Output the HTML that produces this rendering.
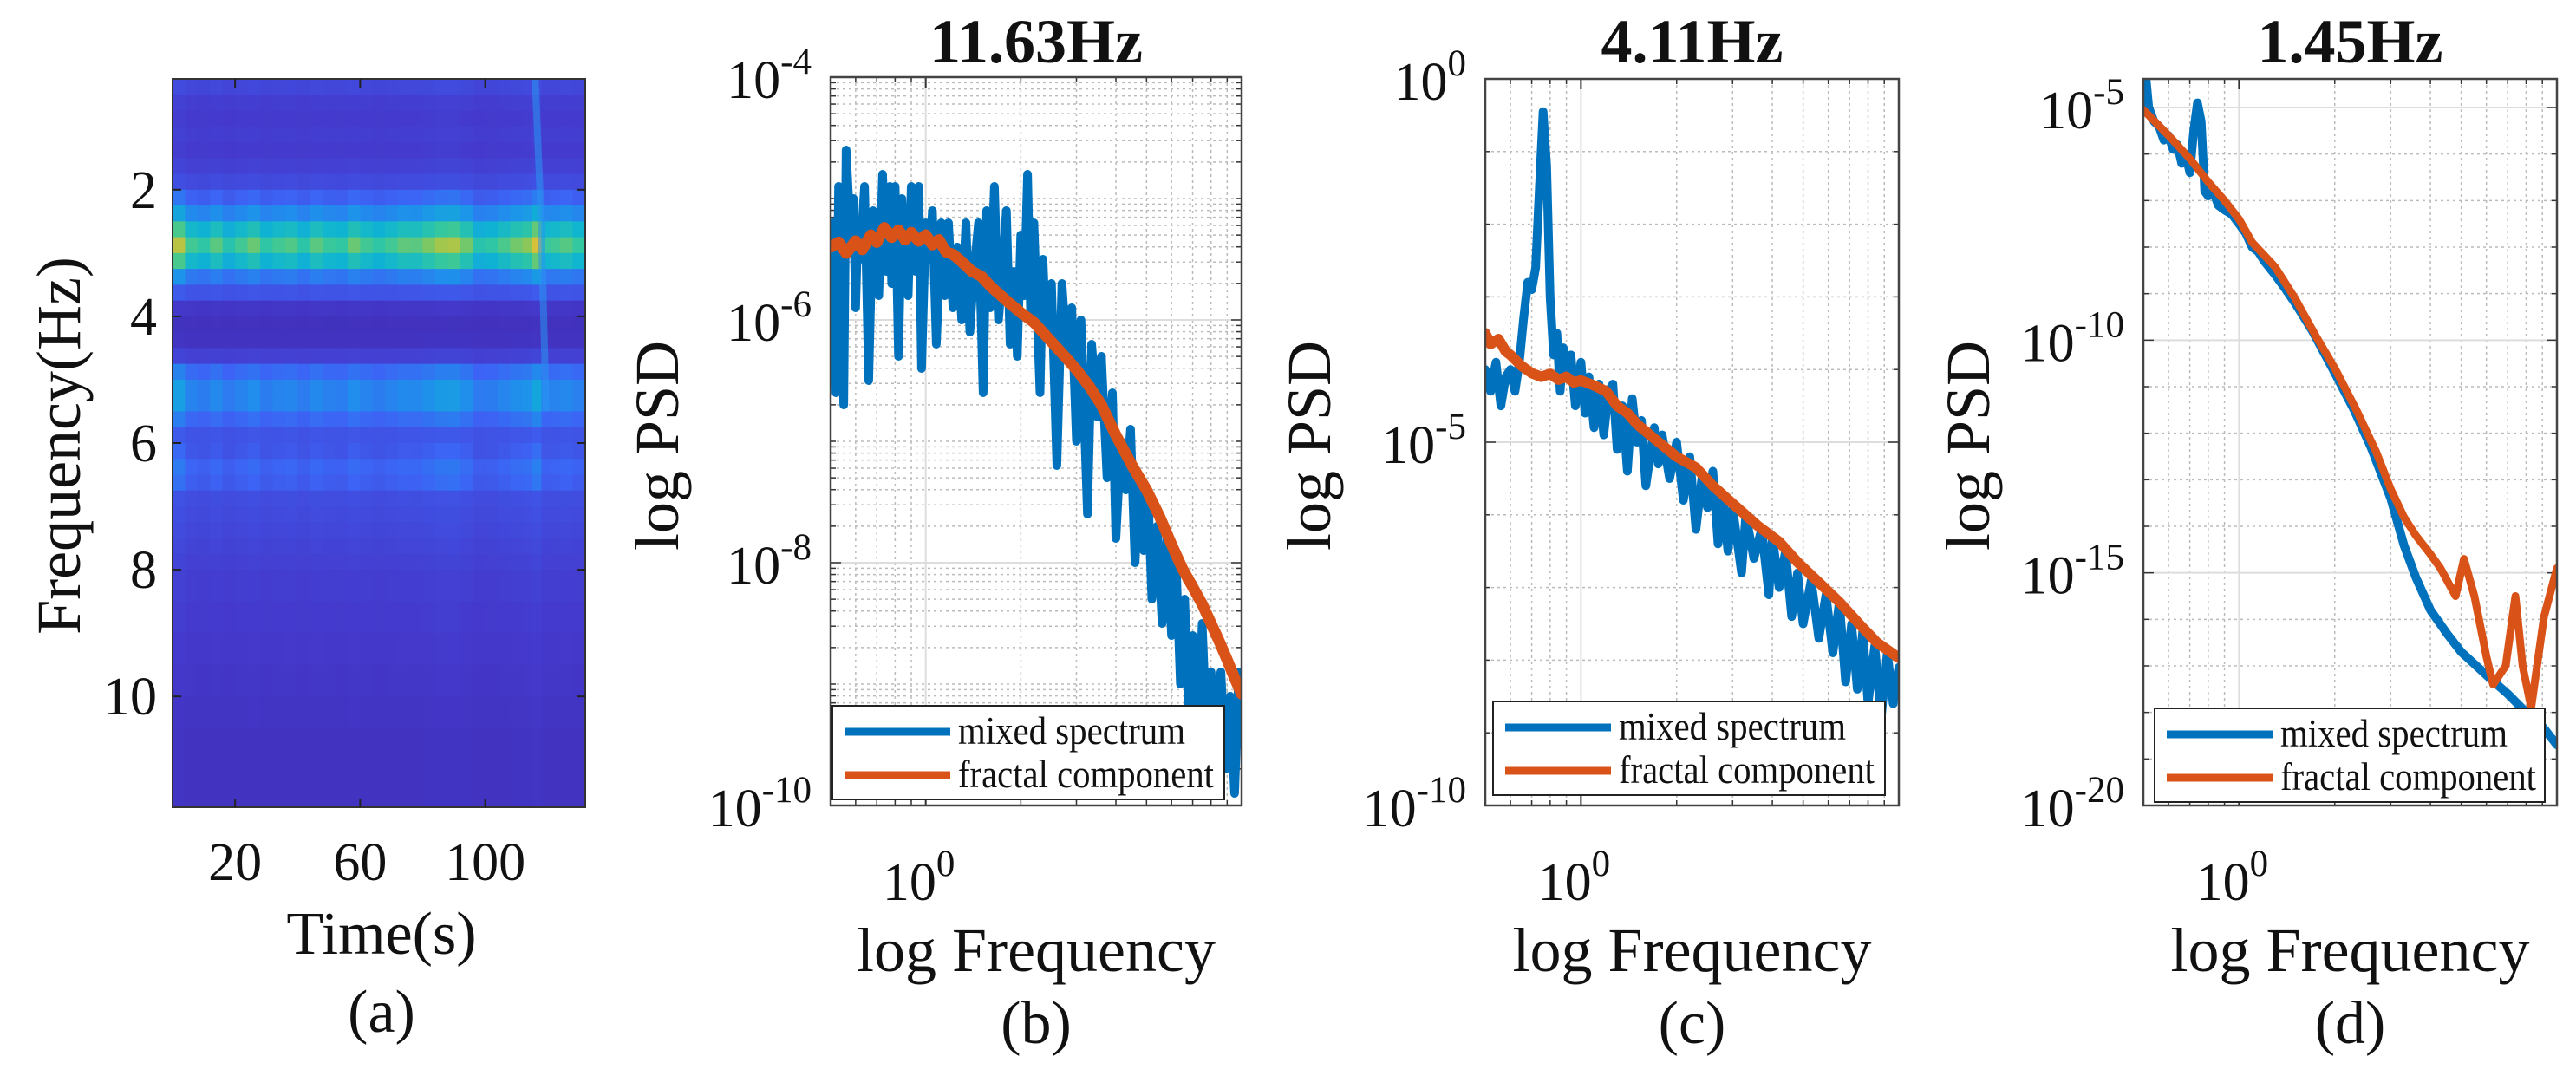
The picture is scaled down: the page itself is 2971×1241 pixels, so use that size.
<!DOCTYPE html>
<html><head><meta charset="utf-8">
<style>
html,body{margin:0;padding:0;background:#fff;}
svg{display:block;}
text{font-family:"Liberation Serif",serif;fill:#111;}
</style></head>
<body>
<svg id="fig" width="2971" height="1241" viewBox="0 0 2971 1241" xmlns="http://www.w3.org/2000/svg">
<defs>
<clipPath id="clipA"><rect x="199" y="91" width="476" height="840"/></clipPath>
<clipPath id="clipB"><rect x="958" y="89" width="474" height="840"/></clipPath>
<clipPath id="clipC"><rect x="1713" y="91" width="477" height="838"/></clipPath>
<clipPath id="clipD"><rect x="2472" y="91" width="477" height="838"/></clipPath>
</defs>
<g id="layer"></g>
</svg>
<script>
// ---------- Panel (a) spectrogram data ----------
const specFreqEdges = [0.25,0.5,0.75,1.0,1.25,1.5,1.75,2.0,2.25,2.5,2.75,3.0,3.25,3.5,3.75,4.0,4.25,4.5,4.75,5.0,5.25,5.5,5.75,6.0,6.25,6.5,6.75,7.0,7.25,7.5,7.75,8.0,8.5,9.0,9.5,10.0,10.5,11.0,11.75];
const specRowLevel = [0.16,0.13,0.12,0.13,0.12,0.14,0.17,0.24,0.36,0.52,0.64,0.52,0.31,0.2,0.1,0.07,0.08,0.14,0.27,0.34,0.34,0.26,0.2,0.21,0.25,0.23,0.18,0.17,0.16,0.15,0.14,0.13,0.12,0.11,0.1,0.09,0.08,0.08];
const specTimeEdges = [0,4,8,12,16,20,24,28,32,36,40,44,48,52,56,60,64,68,72,76,80,84,88,92,96,100,104,108,112,115,118,121,124,128,132];
const specColGain = [1.25,1.0,0.95,1.05,0.92,1.0,1.08,0.95,1.0,1.03,0.94,1.05,0.98,0.96,1.08,1.0,0.95,1.0,1.06,1.05,1.12,1.2,1.22,1.1,0.92,0.95,1.02,1.1,1.15,1.32,0.98,1.0,1.04,0.97];
const specTicksY = [2,4,6,8,10];
const specTicksX = [20,60,100];

// ---------- Panel (b) 11.63Hz ----------
const bFreqBlue = [0.50,0.51,0.52,0.53,0.54,0.55,0.56,0.58,0.59,0.60,0.61,0.62,0.64,0.66,0.68,0.70,0.71,0.73,0.75,0.77,0.78,0.80,0.82,0.84,0.86,0.88,0.90,0.93,0.95,0.97,1.0,1.03,1.05,1.08,1.12,1.15,1.18,1.22,1.26,1.30,1.34,1.38,1.42,1.47,1.52,1.56,1.60,1.65,1.70,1.75,1.8,1.85,1.9,1.95,2.0,2.05,2.1,2.15,2.2,2.3,2.35,2.4,2.5,2.6,2.7,2.8,2.9,3.0,3.1,3.25,3.35,3.5,3.6,3.75,3.9,4.0,4.15,4.3,4.45,4.6,4.75,4.9,5.05,5.2,5.4,5.6,5.8,6.0,6.2,6.4,6.6,6.8,7.0,7.3,7.5,7.8,8.0,8.3,8.6,8.9,9.2,9.5,9.8,10];
const bPsdBlue = [-5.9,-5.2,-6.6,-4.9,-5.6,-6.7,-4.6,-5.4,-5.0,-5.9,-5.2,-5.5,-4.9,-6.5,-5.1,-5.2,-5.8,-4.8,-5.6,-4.9,-5.7,-4.9,-6.3,-5.0,-5.6,-5.8,-4.9,-5.6,-4.9,-6.4,-5.2,-5.5,-5.1,-6.2,-5.2,-5.8,-5.2,-5.9,-5.4,-6.0,-5.2,-6.1,-5.6,-5.2,-6.6,-5.1,-5.9,-4.9,-6.0,-5.6,-5.1,-6.2,-5.6,-6.3,-5.3,-5.8,-4.8,-6.0,-5.2,-6.6,-5.5,-6.1,-5.7,-7.2,-5.7,-6.3,-5.9,-7.0,-6.0,-7.6,-6.2,-6.8,-6.3,-7.3,-6.6,-7.8,-7.0,-7.4,-6.9,-8.0,-7.3,-7.9,-7.4,-8.3,-7.7,-8.5,-7.8,-8.6,-8.0,-9.0,-8.3,-9.2,-8.6,-9.4,-8.5,-9.6,-8.9,-9.5,-8.9,-9.7,-9.1,-9.9,-8.9,-9.5];
const bFreqFractal = [0.5,0.53,0.56,0.6,0.63,0.67,0.7,0.74,0.78,0.82,0.86,0.9,0.95,1.0,1.05,1.1,1.16,1.22,1.3,1.4,1.5,1.6,1.8,2.0,2.2,2.5,2.8,3.0,3.3,3.6,4.0,4.5,5.0,5.5,6.0,6.5,7.0,7.5,8.0,8.5,9.0,9.5,10];
const bPsdFractal = [-5.4,-5.36,-5.45,-5.35,-5.42,-5.3,-5.36,-5.24,-5.32,-5.26,-5.34,-5.28,-5.35,-5.3,-5.38,-5.34,-5.44,-5.46,-5.52,-5.6,-5.64,-5.72,-5.84,-5.94,-6.02,-6.18,-6.32,-6.41,-6.55,-6.7,-6.95,-7.2,-7.4,-7.62,-7.85,-8.05,-8.2,-8.34,-8.5,-8.65,-8.8,-8.95,-9.08];

// ---------- Panel (c) 4.11Hz ----------
const cFreqBlue = [0.50,0.52,0.54,0.56,0.58,0.60,0.62,0.64,0.66,0.68,0.70,0.72,0.74,0.76,0.78,0.80,0.82,0.84,0.86,0.88,0.90,0.93,0.96,1.0,1.03,1.06,1.10,1.14,1.18,1.22,1.26,1.30,1.35,1.40,1.45,1.50,1.55,1.6,1.7,1.75,1.8,1.9,2.0,2.1,2.2,2.3,2.4,2.5,2.6,2.7,2.8,2.9,3.0,3.2,3.3,3.5,3.7,3.9,4.0,4.2,4.4,4.6,4.8,5.0,5.3,5.6,5.9,6.2,6.5,6.8,7.1,7.4,7.7,8.0,8.4,8.8,9.2,9.6,10];
const cPsdBlue = [-4.0,-4.3,-3.9,-4.5,-4.1,-4.0,-4.3,-3.9,-3.3,-2.8,-2.9,-2.6,-1.5,-0.45,-1.2,-3.0,-3.8,-3.5,-4.3,-3.7,-4.0,-3.8,-4.5,-3.9,-4.6,-4.1,-4.8,-4.2,-4.9,-4.3,-4.2,-5.1,-4.5,-5.4,-4.4,-5.0,-4.7,-5.6,-4.8,-5.3,-4.9,-5.5,-5.0,-5.8,-5.2,-6.2,-5.5,-5.9,-5.4,-6.4,-5.8,-6.5,-5.9,-6.8,-6.0,-6.6,-6.2,-7.1,-6.3,-7.0,-6.5,-7.4,-6.8,-7.5,-6.9,-7.7,-7.1,-7.9,-7.2,-8.3,-7.5,-8.4,-7.6,-8.6,-7.8,-8.8,-7.9,-8.6,-8.1];
const cFreqFractal = [0.5,0.52,0.55,0.58,0.6,0.65,0.7,0.75,0.8,0.85,0.9,0.95,1.0,1.1,1.2,1.3,1.4,1.5,1.7,2.0,2.3,2.6,3.1,3.6,4.2,4.8,5.6,6.5,7.5,8.5,10];
const cPsdFractal = [-3.5,-3.65,-3.58,-3.75,-3.8,-3.95,-4.05,-4.1,-4.06,-4.14,-4.1,-4.18,-4.15,-4.22,-4.3,-4.5,-4.6,-4.75,-4.95,-5.2,-5.35,-5.6,-5.9,-6.15,-6.37,-6.65,-6.93,-7.2,-7.5,-7.75,-7.97];

// ---------- Panel (d) 1.45Hz ----------
const dFreqBlue = [0.50,0.51,0.52,0.54,0.56,0.58,0.60,0.62,0.64,0.66,0.68,0.70,0.72,0.74,0.76,0.78,0.80,0.83,0.86,0.9,0.95,1.0,1.05,1.1,1.15,1.2,1.3,1.4,1.5,1.7,2.0,2.3,2.6,3.0,3.3,3.6,4.0,4.5,5.0,6.0,7.0,8.0,9.0,10];
const dPsdBlue = [-4.9,-4.4,-5.0,-5.3,-5.4,-5.7,-5.6,-5.9,-5.8,-6.2,-6.0,-6.4,-5.5,-4.9,-5.3,-6.8,-6.9,-6.8,-7.1,-7.2,-7.3,-7.5,-7.7,-8.0,-8.1,-8.3,-8.6,-8.9,-9.2,-9.8,-10.7,-11.5,-12.3,-13.4,-14.4,-15.1,-15.8,-16.3,-16.7,-17.2,-17.6,-18.0,-18.3,-18.7];
const dFreqFractal = [0.5,0.6,0.7,0.8,0.9,1.0,1.1,1.3,1.5,1.74,2.0,2.34,2.7,3.0,3.3,3.6,4.0,4.3,4.8,5.1,5.5,6.0,6.3,6.9,7.4,7.8,8.3,9.1,10];
const dPsdFractal = [-5.05,-5.6,-6.1,-6.6,-7.0,-7.4,-7.9,-8.43,-9.1,-9.9,-10.6,-11.5,-12.4,-13.2,-13.8,-14.2,-14.6,-14.9,-15.5,-14.7,-15.5,-16.8,-17.4,-17.0,-15.5,-17.0,-17.9,-15.95,-14.9];

const NS = "http://www.w3.org/2000/svg";
const layer = document.getElementById('layer');
function mk(tag, attrs, parent){ const e=document.createElementNS(NS,tag); for(const k in attrs) e.setAttribute(k,attrs[k]); (parent||layer).appendChild(e); return e; }

const cmStops=[[0,[62,38,168]],[0.12,[68,58,205]],[0.25,[60,100,245]],[0.38,[30,145,235]],[0.5,[15,180,210]],[0.62,[50,200,160]],[0.75,[150,200,80]],[0.88,[240,190,50]],[1,[250,245,20]]];
function cmap(v){ v=Math.max(0,Math.min(1,v)); for(let i=1;i<cmStops.length;i++){ if(v<=cmStops[i][0]){ const a=cmStops[i-1],b=cmStops[i]; const t=(v-a[0])/(b[0]-a[0]); const c=a[1].map((x,j)=>Math.round(x+(b[1][j]-x)*t)); return `rgb(${c[0]},${c[1]},${c[2]})`; } } return 'rgb(250,245,20)'; }

// ---------- Panel a ----------
const A={x0:199,x1:675,y0:91,y1:931,t0:0,t1:132,f0:0.25,f1:11.75};
const ax=t=>A.x0+(t-A.t0)/(A.t1-A.t0)*(A.x1-A.x0);
const ay=f=>A.y0+(f-A.f0)/(A.f1-A.f0)*(A.y1-A.y0);
const gA=mk('g',{'clip-path':'url(#clipA)'});


for(let r=0;r<specRowLevel.length;r++){
  for(let c=0;c<specColGain.length;c++){
    const gain = specRowLevel[r]>0.2 ? specColGain[c] : 1+(specColGain[c]-1)*0.35;
    const v=specRowLevel[r]*gain;
    const x=ax(specTimeEdges[c]), y=ay(specFreqEdges[r]);
    const cell=mk('rect',{x:x,y:y,width:ax(specTimeEdges[c+1])-x+0.6,height:ay(specFreqEdges[r+1])-y+0.6,fill:cmap(v)},gA);
    
    
  }
}
const streak=mk('path',{d:`M${ax(116)},${ay(0.25)} L${ax(117.5)},${ay(2)} L${ax(118.5)},${ay(3.6)} L${ax(119.5)},${ay(5.5)}`,stroke:'rgb(40,150,240)','stroke-width':8,fill:'none',opacity:0.55},gA);


const frameA=mk('rect',{x:A.x0,y:A.y0,width:A.x1-A.x0,height:A.y1-A.y0,fill:'none',stroke:'#333','stroke-width':2});


specTicksY.forEach(f=>{
  const y=ay(f);
  mk('line',{x1:A.x0,y1:y,x2:A.x0+10,y2:y,stroke:'#222','stroke-width':2});
  mk('line',{x1:A.x1,y1:y,x2:A.x1-10,y2:y,stroke:'#222','stroke-width':2});
  const t=mk('text',{x:A.x0-18,y:y+21,'font-size':62,'text-anchor':'end'}); t.textContent=f;
  
  
});
specTicksX.forEach(v=>{
  const x=ax(v);
  mk('line',{x1:x,y1:A.y1,x2:x,y2:A.y1-10,stroke:'#222','stroke-width':2});
  mk('line',{x1:x,y1:A.y0,x2:x,y2:A.y0+10,stroke:'#222','stroke-width':2});
  const t=mk('text',{x:x,y:1015,'font-size':62,'text-anchor':'middle'}); t.textContent=v;
  
  
});
{
  const t=mk('text',{x:0,y:0,'font-size':72,'text-anchor':'middle',transform:'translate(92,514) rotate(-90)'}); t.textContent='Frequency(Hz)';
  
  
  const u=mk('text',{x:440,y:1100,'font-size':70,'text-anchor':'middle'}); u.textContent='Time(s)';
  
  
  const p=mk('text',{x:440,y:1190,'font-size':70,'text-anchor':'middle'}); p.textContent='(a)';
  
  
}

// ---------- log-log panels ----------
function logPanel(o){
  const lx0=Math.log10(0.5), lx1=1;
  const X=f=>o.x0+(Math.log10(f)-lx0)/(lx1-lx0)*(o.x1-o.x0);
  const Y=p=>o.y0+(o.ymax-p)/(o.ymax-o.ymin)*(o.y1-o.y0);
  const g=mk('g',{});
  
  
  const xMinor=[0.5,0.6,0.7,0.8,0.9,2,3,4,5,6,7,8,9];
  xMinor.forEach(f=>{ const x=X(f); mk('line',{x1:x,y1:o.y0,x2:x,y2:o.y1,stroke:'#bbb','stroke-width':1.5,'stroke-dasharray':'3,4'},g); mk('line',{x1:x,y1:o.y1,x2:x,y2:o.y1-6,stroke:'#333','stroke-width':1.5},g); mk('line',{x1:x,y1:o.y0,x2:x,y2:o.y0+6,stroke:'#333','stroke-width':1.5},g);});
  const x1p=X(1); mk('line',{x1:x1p,y1:o.y0,x2:x1p,y2:o.y1,stroke:'#ddd','stroke-width':2},g);
  mk('line',{x1:x1p,y1:o.y1,x2:x1p,y2:o.y1-12,stroke:'#333','stroke-width':2},g);
  mk('line',{x1:x1p,y1:o.y0,x2:x1p,y2:o.y0+12,stroke:'#333','stroke-width':2},g);
  const lo=Math.floor(o.ymin), hi=Math.ceil(o.ymax);
  for(let k=lo;k<=hi;k++){
    if(o.fineMinor){ for(let m=2;m<=9;m++){ const p=k+Math.log10(m); if(p>o.ymin&&p<o.ymax){ const y=Y(p); mk('line',{x1:o.x0,y1:y,x2:o.x1,y2:y,stroke:'#bbb','stroke-width':1.5,'stroke-dasharray':'3,4'},g); mk('line',{x1:o.x0,y1:y,x2:o.x0+6,y2:y,stroke:'#333','stroke-width':1.5},g); mk('line',{x1:o.x1,y1:y,x2:o.x1-6,y2:y,stroke:'#333','stroke-width':1.5},g);} } }
    if(k>=o.ymin&&k<=o.ymax){ const y=Y(k); const major=o.yTicks.includes(k);
      mk('line',{x1:o.x0,y1:y,x2:o.x1,y2:y,stroke:major?'#ddd':'#bbb','stroke-width':major?2:1.5,'stroke-dasharray':major?'none':'3,4'},g);
      mk('line',{x1:o.x0,y1:y,x2:o.x0+(major?12:6),y2:y,stroke:'#333','stroke-width':1.5},g);
      mk('line',{x1:o.x1,y1:y,x2:o.x1-(major?12:6),y2:y,stroke:'#333','stroke-width':1.5},g);
    }
  }
  const gc=mk('g',{'clip-path':`url(#${o.clip})`},g);
  const pathOf=(fs,ps)=>fs.map((f,i)=>(i?'L':'M')+X(f).toFixed(1)+','+Y(ps[i]).toFixed(1)).join(' ');
  const bl=mk('path',{d:pathOf(o.fb,o.pb),stroke:'#0072bd','stroke-width':10,fill:'none','stroke-linejoin':'round','stroke-linecap':'round'},gc);
  
  
  const or=mk('path',{d:pathOf(o.ff,o.pf),stroke:'#d95319','stroke-width':o.orW,fill:'none','stroke-linejoin':'round','stroke-linecap':'round'},gc);
  
  
  const fr=mk('rect',{x:o.x0,y:o.y0,width:o.x1-o.x0,height:o.y1-o.y0,fill:'none',stroke:'#444','stroke-width':2.5},g);
  
  
  o.yTicks.forEach(k=>{
    const y=Y(k);
    const t=mk('text',{x:o.x0-22,y:y+24,'font-size':62,'text-anchor':'end'},g);
    const s1=mk('tspan',{},t); s1.textContent='10';
    const s2=mk('tspan',{dy:-28,'font-size':43},t); s2.textContent=String(k);
    
    
  });
  {
    const t=mk('text',{x:X(1)-8,y:1038,'font-size':62,'text-anchor':'middle'},g);
    const s1=mk('tspan',{},t); s1.textContent='10';
    const s2=mk('tspan',{dy:-28,'font-size':43},t); s2.textContent='0';
    
    
  }
  const cx=(o.x0+o.x1)/2;
  const ti=mk('text',{x:cx,y:72,'font-size':72,'font-weight':'bold','text-anchor':'middle'},g); ti.textContent=o.title;
  
  
  const yl=mk('text',{x:0,y:0,'font-size':72,'text-anchor':'middle',transform:`translate(${o.ylabX},514) rotate(-90)`},g); yl.textContent='log PSD';
  
  
  const xl=mk('text',{x:cx,y:1120,'font-size':72,'text-anchor':'middle'},g); xl.textContent='log Frequency';
  
  
  const pl=mk('text',{x:cx,y:1203,'font-size':70,'text-anchor':'middle'},g); pl.textContent=o.label;
  
  
  const L=o.leg;
  const lg=mk('g',{},g);
  
  
  mk('rect',{x:L.x,y:L.y,width:L.w,height:108,fill:'#fff',stroke:'#222','stroke-width':2},lg);
  mk('line',{x1:L.x+14,y1:L.y+30,x2:L.x+136,y2:L.y+30,stroke:'#0072bd','stroke-width':9},lg);
  mk('line',{x1:L.x+14,y1:L.y+80,x2:L.x+136,y2:L.y+80,stroke:'#d95319','stroke-width':9},lg);
  const e1=mk('text',{x:L.x+145,y:L.y+44,'font-size':45,textLength:L.tl1,lengthAdjust:'spacingAndGlyphs'},lg); e1.textContent='mixed spectrum';
  
  
  const e2=mk('text',{x:L.x+145,y:L.y+94,'font-size':45,textLength:L.tl2,lengthAdjust:'spacingAndGlyphs'},lg); e2.textContent='fractal component';
  
  
}
logPanel({name:'panel-b-psd',x0:958,x1:1432,y0:89,y1:929,ymax:-4,ymin:-10,yTicks:[-4,-6,-8,-10],fineMinor:true,clip:'clipB',
  fb:bFreqBlue,pb:bPsdBlue,ff:bFreqFractal,pf:bPsdFractal,orW:13,title:'11.63Hz',label:'(b)',ylabX:782,leg:{x:960,y:814,w:452,tl1:262,tl2:295}});
logPanel({name:'panel-c-psd',x0:1713,x1:2190,y0:91,y1:929,ymax:0,ymin:-10,yTicks:[0,-5,-10],fineMinor:false,clip:'clipC',
  fb:cFreqBlue,pb:cPsdBlue,ff:cFreqFractal,pf:cPsdFractal,orW:12,title:'4.11Hz',label:'(c)',ylabX:1534,leg:{x:1722,y:809,w:452,tl1:262,tl2:295}});
logPanel({name:'panel-d-psd',x0:2472,x1:2949,y0:91,y1:929,ymax:-4.385,ymin:-20,yTicks:[-5,-10,-15,-20],fineMinor:false,clip:'clipD',
  fb:dFreqBlue,pb:dPsdBlue,ff:dFreqFractal,pf:dPsdFractal,orW:9,title:'1.45Hz',label:'(d)',ylabX:2294,leg:{x:2485,y:817,w:450,tl1:262,tl2:295}});
</script>
</body></html>
